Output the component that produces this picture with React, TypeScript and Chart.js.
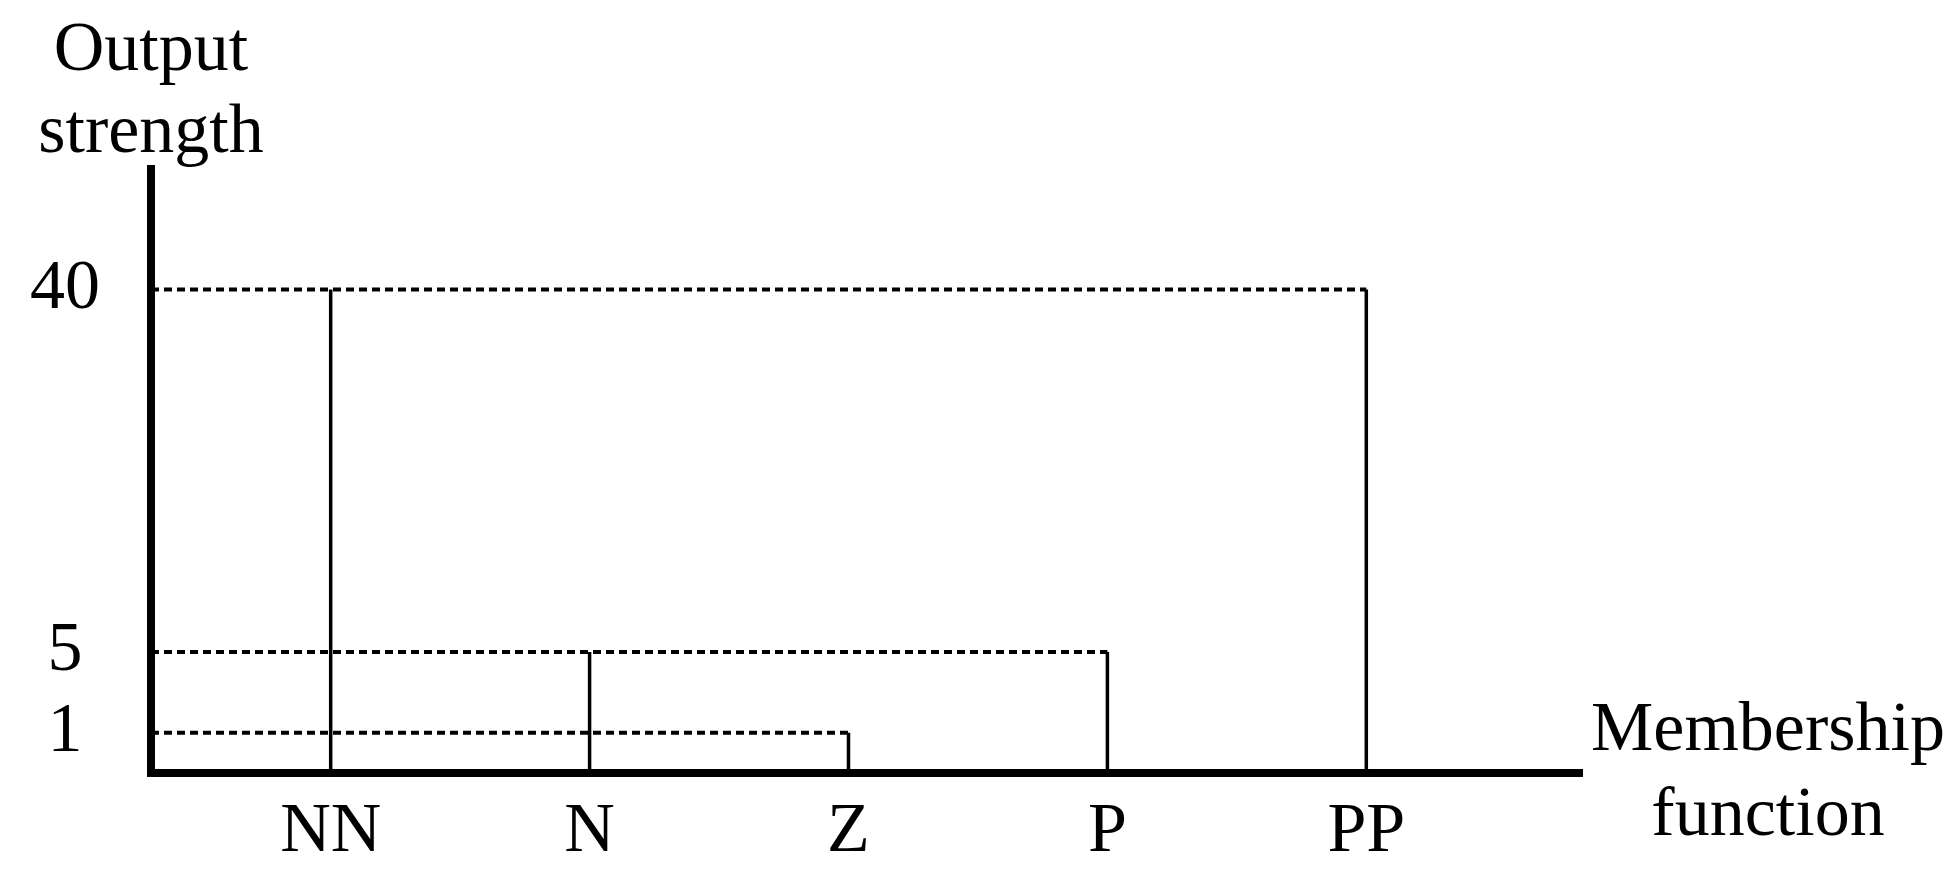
import React, { useEffect, useRef } from 'react';
import { Chart, registerables } from 'chart.js';

Chart.register(...registerables);

// ---- data ----
const categories = ['NN', 'N', 'Z', 'P', 'PP'];
const outputStrength = [40, 5, 1, 5, 40];
// schematic (non-linear) output-strength axis: index 0 at the bottom
const yLevelLabels = ['0', '1', '', '5', '', '', '', '', '', '', '', '', '40', '', '', ''];
const yTitleLines = ['Output', 'strength'];
const xTitleLines = ['Membership', 'function'];

const FONT_FAMILY = '"Liberation Serif", "Times New Roman", serif';
const FONT_SIZE = 70;
const X_MIN = 0.306;
const X_MAX = 5.835;

const axisTitles = {
  id: 'axisTitles',
  afterDraw(chart: any) {
    const { ctx, chartArea } = chart;
    const { left, right, bottom } = chartArea;
    ctx.save();
    ctx.font = `${FONT_SIZE}px ${FONT_FAMILY}`;
    ctx.fillStyle = '#000';
    ctx.textAlign = 'center';
    ctx.textBaseline = 'alphabetic';
    ctx.fillText(yTitleLines[0], left, 70);
    ctx.fillText(yTitleLines[1], left, 152);
    ctx.fillText(xTitleLines[0], right + 185.5, bottom - 23);
    ctx.fillText(xTitleLines[1], right + 185.5, bottom + 62);
    ctx.restore();
  },
};

export default function App() {
  const canvasRef = useRef<HTMLCanvasElement>(null);

  useEffect(() => {
    if (!canvasRef.current) return;

    const stems = categories.map((c, i) => ({
      label: c,
      data: [
        { x: i + 1, y: '0' },
        { x: i + 1, y: String(outputStrength[i]) },
      ],
      borderColor: '#000',
      backgroundColor: '#000',
      borderWidth: 3.5,
      borderCapStyle: 'butt',
      pointRadius: 0,
      order: 0,
    }));

    const levels = Array.from(new Set(outputStrength));
    const guides = levels.map((v) => {
      const last = outputStrength.lastIndexOf(v);
      return {
        label: `level ${v}`,
        data: [
          { x: X_MIN, y: String(v) },
          { x: last + 1, y: String(v) },
        ],
        borderColor: '#000',
        backgroundColor: '#000',
        borderWidth: 4,
        borderDash: [8, 5],
        borderCapStyle: 'butt',
        pointRadius: 0,
        order: 1,
      };
    });

    const chart = new Chart(canvasRef.current, {
      type: 'line',
      data: { datasets: [...guides, ...stems] as any },
      options: {
        animation: false,
        responsive: false,
        devicePixelRatio: 1,
        layout: { padding: { left: 0, top: 168.5, right: 374.5, bottom: 0 } },
        plugins: {
          legend: { display: false },
          tooltip: { enabled: false },
          title: { display: false },
        },
        scales: {
          x: {
            type: 'linear',
            min: X_MIN,
            max: X_MAX,
            grid: { display: false, drawTicks: false },
            border: { display: true, width: 8, color: '#000' },
            afterBuildTicks: (scale: any) => {
              scale.ticks = categories.map((_, i) => ({ value: i + 1 }));
            },
            afterFit: (scale: any) => {
              scale.height = 100;
            },
            ticks: {
              autoSkip: false,
              maxRotation: 0,
              minRotation: 0,
              padding: 18,
              color: '#000',
              font: { family: FONT_FAMILY, size: FONT_SIZE },
              callback: (v: any) => categories[Math.round(Number(v)) - 1] ?? '',
            },
          },
          y: {
            type: 'category',
            labels: yLevelLabels,
            reverse: true,
            offset: false,
            grid: { display: false, drawTicks: false },
            border: { display: true, width: 8, color: '#000' },
            afterFit: (scale: any) => {
              scale.width = 151;
            },
            ticks: {
              autoSkip: false,
              crossAlign: 'center',
              padding: 51,
              color: '#000',
              font: { family: FONT_FAMILY, size: FONT_SIZE },
              callback: (_v: any, index: number) => {
                const l = yLevelLabels[index];
                return l === '0' ? '' : l;
              },
            },
          },
        },
      } as any,
      plugins: [axisTitles],
    });

    return () => chart.destroy();
  }, []);

  return (
    <div style={{ position: 'fixed', left: 0, top: 0, width: 1957, height: 873, background: '#fff' }}>
      <canvas ref={canvasRef} width={1957} height={873} style={{ display: 'block' }} />
    </div>
  );
}
